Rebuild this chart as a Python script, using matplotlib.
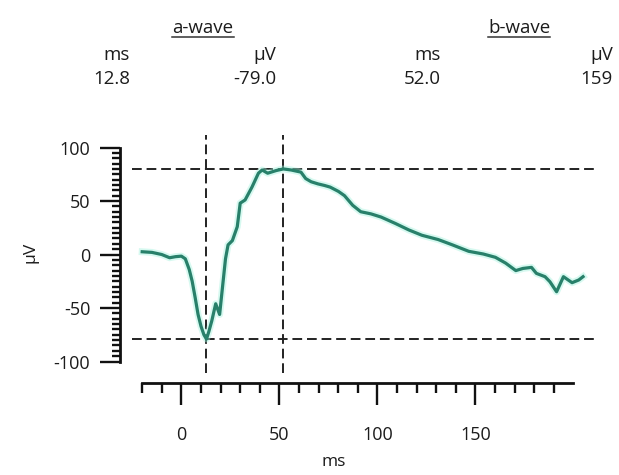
import matplotlib
matplotlib.use("Agg")
import matplotlib.pyplot as plt
from matplotlib.ticker import FixedLocator
from matplotlib.lines import Line2D

# ---- data ----
time_ms = [-20, -15, -10, -6, -3, 0, 2, 4, 5.5, 7, 8.5, 10, 11.5, 12.8, 14, 15.5,
           17.5, 19.5, 21, 22.5, 23.8, 26, 28.5, 30, 32.5, 36, 39.3, 41.2, 44,
           48.4, 52, 56, 61, 63.4, 66.2, 69.7, 73.1, 75.9, 80.1, 83.2, 87.4, 91.5,
           96.7, 101.9, 109.2, 116, 122.7, 131, 138.3, 146.6, 154, 160.2, 165.4,
           170.6, 174.2, 178.6, 181.1, 185.5, 188, 191.4, 194.9, 199.3, 202.7, 204.9]
amp_uv = [2.6, 2, 0, -3, -2, -1.5, -4, -14, -25, -40, -56, -67, -75, -79, -72,
          -62, -46, -56, -30, -4, 9, 13, 26, 48, 51, 63, 76, 79, 76, 78.5, 80,
          79, 77, 71, 68, 66, 64.5, 63, 59, 55, 46, 40, 38, 35, 29, 23, 18, 14,
          9, 3, 0.5, -2.6, -8, -15, -13, -12, -17.6, -20.7, -25.4, -34.8, -20.7,
          -26.3, -23.8, -20.7]

a_wave_ms, a_wave_uv = 12.8, -79.0
b_wave_ms, b_wave_peak_uv, b_wave_amp = 52.0, 80.0, 159

x_major = [0, 50, 100, 150]
x_minor = list(range(-20, 200, 10))
y_major = [-100, -50, 0, 50, 100]
y_minor = list(range(-100, 101, 5))

FONT = "Open Sans"
plt.rcParams['font.family'] = [FONT, 'DejaVu Sans']
TXT = '#1c1c1c'

W, H = 619, 475
fig = plt.figure(figsize=(W / 100, H / 100), dpi=100)
fig.patch.set_facecolor('white')

def fx(x):
    return x / W

def fy(y):
    return 1 - y / H

ax = fig.add_axes([fx(132), fy(373), (595 - 132) / W, (373 - 135) / H])
ax.set_xlim(-25.2, 211)
ax.set_ylim(-110.7, 111.7)

# glow + line
ax.plot(time_ms, amp_uv, color='#a6f2de', lw=5, alpha=0.45, solid_joinstyle='round', zorder=2)
ax.plot(time_ms, amp_uv, color='#28806a', lw=2.3, solid_joinstyle='round', zorder=3)

dash = (0, (5, 2.5))
for v in (a_wave_ms, b_wave_ms):
    ax.axvline(v, color='#222222', lw=1.4, ls=dash, zorder=1)
for h in (b_wave_peak_uv, a_wave_uv):
    ax.axhline(h, color='#222222', lw=1.4, ls=dash, zorder=1)

for s in ('top', 'right'):
    ax.spines[s].set_visible(False)
ax.spines['left'].set_position(('outward', 8.6))
ax.spines['bottom'].set_position(('outward', 7.2))
ax.spines['left'].set_bounds(-100, 100)
ax.spines['bottom'].set_bounds(-20, 200)
for s in ('left', 'bottom'):
    ax.spines[s].set_linewidth(2.0)
    ax.spines[s].set_color('#111111')

ax.xaxis.set_major_locator(FixedLocator(x_major))
ax.xaxis.set_minor_locator(FixedLocator(x_minor))
ax.yaxis.set_major_locator(FixedLocator(y_major))
ax.yaxis.set_minor_locator(FixedLocator(y_minor))
ax.set_xticklabels([str(v) for v in x_major])
ax.set_yticklabels([str(v) for v in y_major])

ax.tick_params(axis='x', which='major', direction='out', length=15.8, width=1.7,
               color='#111111', labelsize=13, pad=15, labelcolor=TXT)
ax.tick_params(axis='x', which='minor', direction='out', length=7.2, width=1.7,
               color='#111111')
ax.tick_params(axis='y', which='major', direction='out', length=14.4, width=1.7,
               color='#111111', labelsize=13, pad=7, labelcolor=TXT)
ax.tick_params(axis='y', which='minor', direction='out', length=5.8, width=1.7,
               color='#111111')

fig.text(fx(334), fy(462), 'ms', ha='center', va='center', fontsize=12.5, color=TXT)
fig.text(fx(31), fy(252), 'µV', ha='center', va='center', fontsize=12.5, rotation=90,
         color=TXT)

# header
hdr_kw = dict(fontsize=13.5, color=TXT, va='center')
t_a = fig.text(fx(203), fy(28), 'a-wave', ha='center', **hdr_kw)
t_b = fig.text(fx(519), fy(28), 'b-wave', ha='center', **hdr_kw)
cols = [130, 276, 441, 613]
units = ['ms', 'µV', 'ms', 'µV']
vals = [f'{a_wave_ms:.1f}', f'{a_wave_uv:.1f}', f'{b_wave_ms:.1f}', f'{b_wave_amp}']
for c, u, v in zip(cols, units, vals):
    fig.text(fx(c), fy(55), u, ha='right', **hdr_kw)
    fig.text(fx(c), fy(79), v, ha='right', **hdr_kw)

fig.canvas.draw()
r = fig.canvas.get_renderer()
for t in (t_a, t_b):
    bb = t.get_window_extent(r).transformed(fig.transFigure.inverted())
    fig.add_artist(Line2D([bb.x0, bb.x1], [bb.y0 - 0.001, bb.y0 - 0.001],
                          transform=fig.transFigure, color='#333333', lw=1.1))

fig.savefig('out.png', dpi=100, facecolor='white')
